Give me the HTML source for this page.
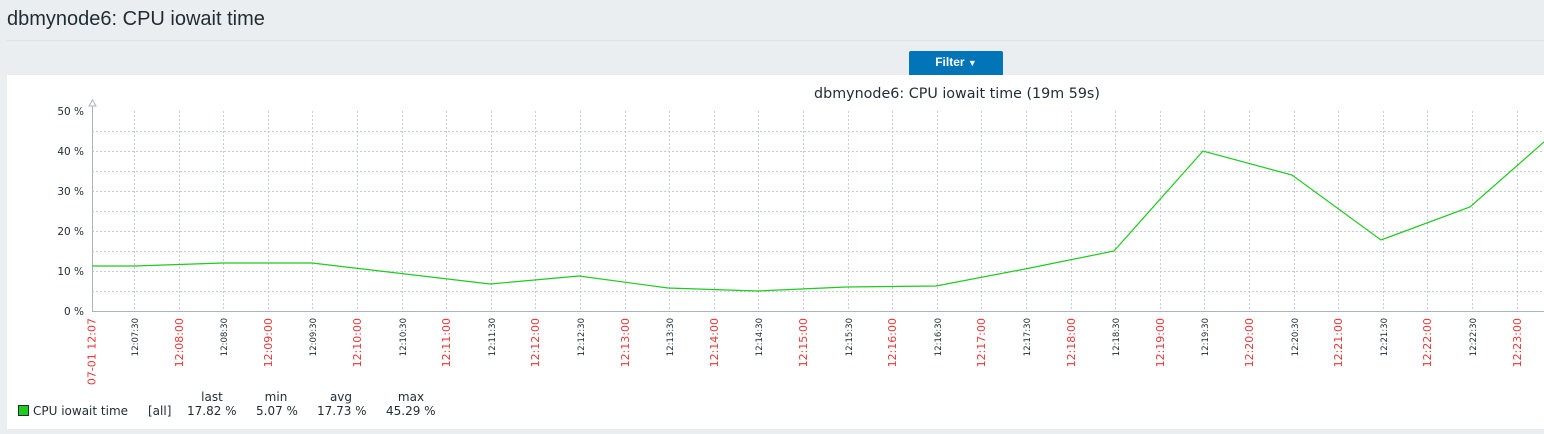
<!DOCTYPE html>
<html><head><style>
body{margin:0;width:1544px;height:434px;background:#ebeef1;overflow:hidden;font-family:"DejaVu Sans","Liberation Sans",sans-serif;}
.h{position:absolute;left:7px;top:8px;font:20px "Liberation Sans",sans-serif;color:#1f2c33;}
.sep{position:absolute;left:7px;right:0;top:40px;height:1px;background:#dde2e6;}
.btn{position:absolute;left:909px;top:51px;width:94px;height:24px;background:#0275b8;border-radius:2px 2px 0 0;color:#fff;font:bold 12px "Liberation Sans",sans-serif;text-align:center;line-height:23px;}
.panel{position:absolute;left:7px;top:75px;width:1537px;height:354px;background:#fff;}
</style></head><body>
<div class="h">dbmynode6: CPU iowait time</div>
<div class="sep"></div>
<div class="panel"></div>
<div class="btn">Filter <span style="font-size:9px">▼</span></div>
<svg width="1544" height="434" style="position:absolute;left:0;top:0" font-family="DejaVu Sans, Liberation Sans, sans-serif">
<text x="957" y="98" text-anchor="middle" font-size="14.3" fill="#1f2c33">dbmynode6: CPU iowait time (19m 59s)</text>
<g stroke="#c3cad0" stroke-dasharray="2,2" stroke-width="1">
<line x1="92" x2="1544" y1="131.5" y2="131.5"/><line x1="92" x2="1544" y1="151.5" y2="151.5"/><line x1="92" x2="1544" y1="171.5" y2="171.5"/><line x1="92" x2="1544" y1="191.5" y2="191.5"/><line x1="92" x2="1544" y1="211.5" y2="211.5"/><line x1="92" x2="1544" y1="231.5" y2="231.5"/><line x1="92" x2="1544" y1="251.5" y2="251.5"/><line x1="92" x2="1544" y1="271.5" y2="271.5"/><line x1="92" x2="1544" y1="291.5" y2="291.5"/>
</g>
<g id="vg" stroke="#c3cad0" stroke-dasharray="2,2" stroke-width="1"></g>
<line x1="92.5" x2="92.5" y1="106" y2="312" stroke="#aab4bc"/>
<line x1="92" x2="1544" y1="311.5" y2="311.5" stroke="#aab4bc"/>
<path d="M89 106 L92.5 100 L96 106 Z" fill="#fff" stroke="#aab4bc"/>
<g font-size="10.5" fill="#1f2c33" text-anchor="end">
<text x="84" y="115">50 %</text><text x="84" y="155">40 %</text><text x="84" y="195">30 %</text><text x="84" y="235">20 %</text><text x="84" y="275">10 %</text><text x="84" y="315">0 %</text>
</g>
<polyline fill="none" stroke="#1ecb1e" stroke-width="1.2" points="92,266 134,266 223,263 312,263 490,284 579,276 668,288 757,291 846,287 936,286 1025,269 1114,251 1203,151 1292,175 1381,240 1470,207 1544,142"/>
<g id="xl"></g>
<rect x="18.5" y="405.5" width="10" height="10" fill="#1ecb1e" stroke="#1f2c33"/>
<g font-size="12" fill="#1f2c33">
<text x="33" y="415">CPU iowait time</text><text x="148" y="415">[all]</text>
<text x="187" y="415">17.82 %</text><text x="256" y="415">5.07 %</text><text x="317" y="415">17.73 %</text><text x="386" y="415">45.29 %</text>
<text x="212" y="401" text-anchor="middle">last</text><text x="276" y="401" text-anchor="middle">min</text><text x="341" y="401" text-anchor="middle">avg</text><text x="411" y="401" text-anchor="middle">max</text>
</g>
</svg>
<script>
var ns="http://www.w3.org/2000/svg",vg=document.getElementById("vg"),xl=document.getElementById("xl");
function t(x,s,red,size){var e=document.createElementNS(ns,"text");e.setAttribute("transform","translate("+(x+3.5)+",318) rotate(-90)");e.setAttribute("text-anchor","end");e.setAttribute("font-size",size);e.setAttribute("fill",red?"#e8363a":"#1f2c33");e.textContent=s;xl.appendChild(e);}
t(92,"07-01 12:07",1,11);
for(var i=0;i<32;i++){var x=Math.round(134+i*44.6)+0.5;var l=document.createElementNS(ns,"line");l.setAttribute("x1",x);l.setAttribute("x2",x);l.setAttribute("y1",111);l.setAttribute("y2",311);vg.appendChild(l);
var sec=(7*60+30)+i*30,m=Math.floor(sec/60),s=sec%60;var lab="12:"+(m<10?"0":"")+m+":"+(s?"30":"00");t(x,lab,s==0,s==0?11:8.5);}
</script>
</body></html>
